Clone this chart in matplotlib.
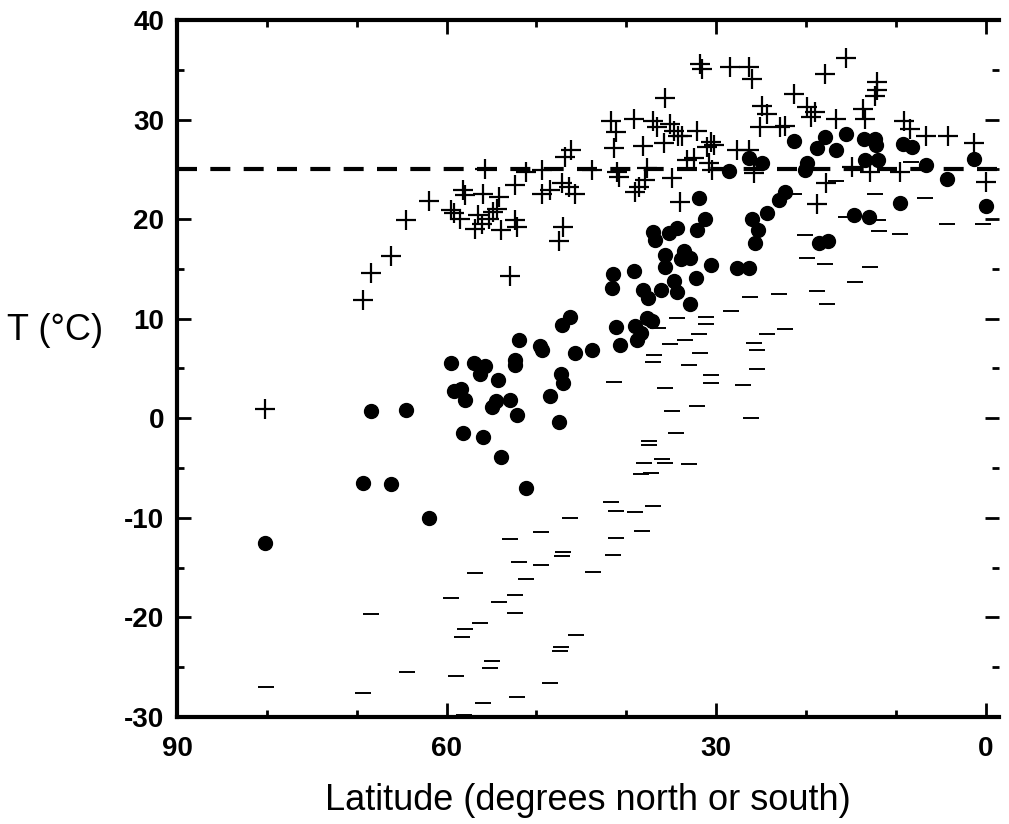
import matplotlib
matplotlib.use("Agg")
import matplotlib.pyplot as plt
from matplotlib.ticker import MultipleLocator

plt.rcParams["font.family"] = ["Liberation Sans", "DejaVu Sans"]
plt.rcParams["axes.unicode_minus"] = False

# daily maximum temperatures (+)
max_lat = [80.2, 69.3, 68.4, 66.2, 64.5, 62.0, 55.7, 51.2, 52.4, 58.2, 57.9, 56.0, 54.2,
           59.5, 59.2, 58.5, 56.8, 56.5, 56.1, 55.3, 54.8, 54.4, 54.0, 52.4, 52.2, 53.0,
           31.8, 31.6, 35.7, 41.7, 41.2, 39.1, 41.4, 37.0, 36.6, 35.1, 34.7, 34.2, 33.8,
           32.1, 35.8, 38.1, 31.0, 30.6, 33.2, 32.5, 46.2, 46.8, 49.4, 47.2, 46.4, 45.7,
           49.4, 48.5, 43.8, 41.0, 40.8, 37.7, 37.9, 38.6, 39.0, 34.9, 34.0, 30.8, 30.5,
           28.5, 26.3, 26.0, 15.6, 17.9, 21.4, 12.1, 12.1, 12.3, 24.9, 24.3, 25.1, 22.9,
           22.3, 19.9, 19.5, 19.0, 16.7, 13.7, 13.4, 9.1, 8.4, 6.7, 4.2, 1.3, 30.3, 27.7,
           26.3, 25.8, 14.9, 12.9, 9.5, 17.8, 18.8, 0.0, 47.0, 47.5]
max_t = [0.9, 11.9, 14.6, 16.3, 19.9, 21.8, 25.0, 24.7, 23.4, 22.9, 22.4, 22.5, 22.2,
         20.9, 20.6, 20.0, 19.0, 20.4, 19.5, 20.0, 20.7, 21.0, 18.9, 19.9, 19.2, 14.3,
         35.6, 35.1, 32.2, 29.9, 28.8, 30.1, 27.1, 29.9, 29.3, 29.6, 28.9, 28.4, 28.4,
         28.9, 27.6, 27.3, 27.2, 27.7, 25.9, 26.1, 26.9, 26.2, 24.9, 23.6, 23.2, 22.5,
         22.5, 22.9, 24.9, 24.7, 24.2, 25.1, 23.9, 23.2, 22.7, 24.1, 21.7, 25.6, 24.9,
         35.3, 35.3, 34.1, 36.2, 34.6, 32.6, 33.8, 33.0, 32.4, 31.4, 30.6, 29.3, 29.3,
         29.4, 31.3, 30.3, 30.8, 30.1, 31.1, 30.1, 29.9, 29.1, 28.4, 28.4, 27.6, 27.4, 26.9,
         26.9, 24.6, 25.2, 24.7, 24.7, 23.6, 21.5, 23.7, 19.2, 17.8]

# mean temperatures (filled circles)
mean_lat = [80.2, 68.4, 64.5, 69.3, 66.2, 62.0, 59.5, 56.9, 55.7, 56.3, 54.3, 52.4, 52.4,
            59.2, 58.4, 57.9, 55.0, 54.5, 53.0, 52.2, 48.5, 47.3, 47.0, 47.5, 58.2, 56.0,
            54.0, 51.2, 52.0, 49.6, 49.4, 47.2, 46.3, 45.7, 43.8, 41.1, 40.7, 39.0, 37.7,
            37.2, 38.8, 38.4, 41.5, 41.6, 39.1, 38.1, 37.6, 36.1, 34.7, 34.4, 32.9, 37.0,
            36.8, 35.3, 34.4, 35.7, 35.7, 33.6, 33.9, 32.9, 30.6, 32.2, 27.7, 26.3, 31.9,
            31.2, 32.1, 26.0, 25.4, 25.7, 24.3, 18.6, 17.6, 28.6, 26.3, 24.9, 21.4, 17.9,
            15.6, 18.8, 16.7, 13.6, 12.3, 12.2, 13.5, 12.0, 9.2, 8.2, 6.7, 4.3, 1.3, 0.0,
            9.5, 19.9, 20.1, 22.3, 23.0, 14.7, 13.0]
mean_t = [-12.5, 0.7, 0.8, -6.5, -6.6, -10.0, 5.6, 5.6, 5.3, 4.4, 3.8, 5.4, 5.9,
          2.7, 2.9, 1.8, 1.1, 1.7, 1.8, 0.3, 2.2, 4.4, 3.5, -0.4, -1.5, -1.9,
          -3.9, -7.0, 7.9, 7.3, 6.9, 9.4, 10.2, 6.6, 6.9, 9.2, 7.4, 9.3, 10.1,
          9.8, 7.9, 8.6, 14.5, 13.1, 14.8, 12.9, 12.1, 12.9, 13.8, 12.7, 11.5, 18.7,
          17.9, 18.6, 19.1, 16.4, 15.2, 16.8, 16.0, 16.1, 15.4, 14.1, 15.1, 15.1, 22.1,
          20.0, 18.9, 20.0, 18.9, 17.6, 20.6, 17.6, 17.8, 24.8, 26.1, 25.6, 27.8, 28.3,
          28.6, 27.1, 26.9, 28.0, 28.1, 27.4, 25.9, 25.9, 27.5, 27.2, 25.4, 24.0, 26.0, 21.3,
          21.6, 25.6, 24.9, 22.7, 21.9, 20.4, 20.2]

# daily minimum temperatures (-)
min_lat = [80.1, 68.4, 69.3, 64.4, 56.8, 59.5, 59.0, 57.9, 58.3, 56.3, 54.2, 52.9, 52.0,
           51.2, 52.4, 52.4, 55.9, 52.2, 55.0, 55.2, 49.5, 49.5, 46.3, 47.1, 47.2, 45.6,
           47.3, 47.4, 48.5, 58.1, 43.7, 41.7, 41.1, 41.2, 41.5, 38.3, 39.0, 37.0, 38.4,
           37.3, 38.0, 36.0, 35.7, 33.0, 37.5, 37.5, 34.5, 34.9, 32.1, 26.1, 35.7, 41.4,
           30.6, 30.6, 27.0, 25.5, 37.0, 36.9, 33.0, 31.8, 35.2, 33.5, 31.9, 36.5, 34.4,
           31.1, 31.1, 28.4, 25.8, 25.5, 24.3, 22.3, 26.2, 23.0, 18.8, 17.7, 14.6, 12.9,
           17.9, 19.9, 20.1, 11.9, 9.5, 4.3, 0.3, 15.6, 12.0, 12.3, 6.8, 21.4, 16.7, 8.3]
min_t = [-27.0, -19.7, -27.6, -25.5, -15.5, -18.1, -25.9, -21.2, -22.0, -20.6, -18.5, -12.1, -14.4,
         -16.1, -17.7, -19.6, -28.6, -28.0, -24.4, -25.1, -14.7, -11.4, -10.0, -13.4, -13.8, -21.8,
         -23.0, -23.4, -26.6, -29.8, -15.4, -8.4, -9.3, -12.0, -13.7, -11.3, -9.4, -8.8, -5.6,
         -5.5, -4.5, -4.1, -4.5, -4.6, -2.3, -2.7, -1.5, 0.7, 1.2, 0.0, 3.0, 3.6,
         4.3, 3.5, 3.3, 4.9, 5.7, 6.4, 5.4, 6.6, 7.5, 7.9, 8.5, 9.1, 10.1,
         10.2, 9.5, 10.8, 7.6, 6.9, 8.5, 9.0, 12.2, 12.5, 12.8, 11.5, 13.7, 15.2,
         15.5, 16.1, 18.4, 18.8, 18.5, 19.5, 19.5, 20.2, 19.9, 22.5, 22.1, 22.5, 23.8, 25.7]

threshold = 25

fig = plt.figure(figsize=(10.09, 8.24), dpi=100)
ax = fig.add_axes([0.1754, 0.1299, 0.8146, 0.8458])

ax.axhline(threshold, color="black", lw=3, linestyle=(0, (4.8, 3.2)), zorder=1)
ax.plot(mean_lat, mean_t, "o", color="black", ms=10, zorder=3)
ax.plot(max_lat, max_t, "+", color="black", ms=14, mew=1.6, zorder=3)
ax.plot(min_lat, min_t, "_", color="black", ms=12, mew=1.4, zorder=3)

ax.set_xlim(90, -1.45)
ax.set_ylim(-30, 40)
ax.xaxis.set_major_locator(MultipleLocator(30))
ax.xaxis.set_minor_locator(MultipleLocator(10))
ax.yaxis.set_major_locator(MultipleLocator(10))
ax.yaxis.set_minor_locator(MultipleLocator(5))

for side in ("left", "bottom", "top"):
    ax.spines[side].set_linewidth(3)
ax.spines["right"].set_visible(False)

ax.tick_params(which="both", direction="in", top=True, right=True, width=2)
ax.tick_params(which="major", length=10)
ax.tick_params(which="minor", length=5)
ax.tick_params(axis="y", which="major", pad=9, labelsize=20)
ax.tick_params(axis="x", which="major", pad=14, labelsize=20)
for lab in ax.get_xticklabels() + ax.get_yticklabels():
    lab.set_fontweight("bold")

ax.set_xlabel("Latitude (degrees north or south)", fontsize=26, labelpad=15)
ax.set_ylabel("T (°C)", fontsize=26, rotation=0, ha="center", va="center")
ax.yaxis.set_label_coords(-0.148, 0.555)

fig.savefig("out.png", dpi=100, facecolor="white")
